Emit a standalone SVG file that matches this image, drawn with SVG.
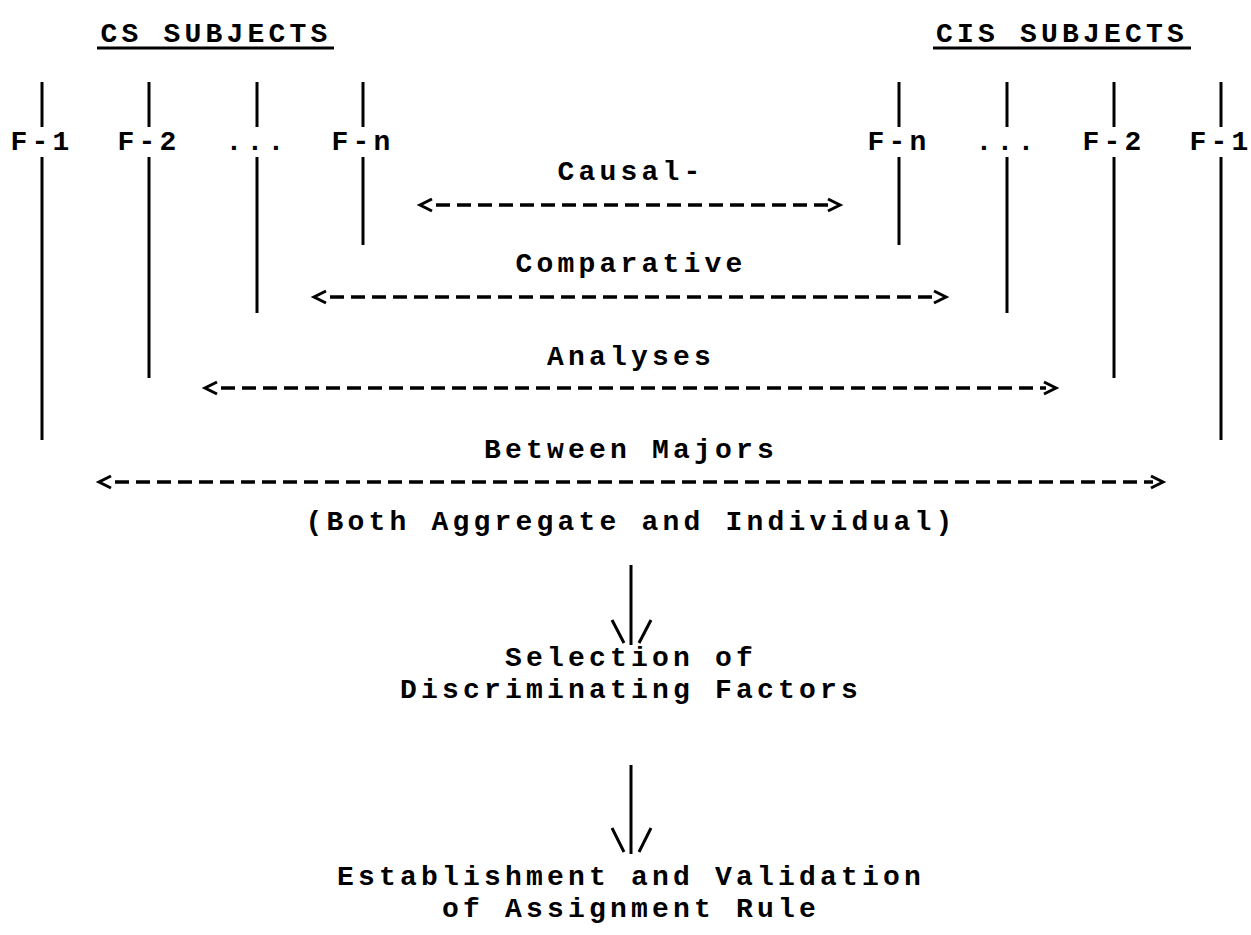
<svg xmlns="http://www.w3.org/2000/svg" width="1251" height="935" viewBox="0 0 1251 935">
<style>
text{font-family:"Liberation Mono","DejaVu Sans Mono",monospace;font-weight:bold;font-size:28px;letter-spacing:4.2px;fill:#000;text-anchor:middle}
.ln{stroke:#000;stroke-width:3;fill:none}
.ds{stroke:#000;stroke-width:3.5;fill:none;stroke-dasharray:14 7}
.hd{stroke:#000;stroke-width:3;fill:none;stroke-linejoin:miter}
</style>
<rect width="1251" height="935" fill="#fff"/>
<g id="cs-subjects">
<text x="216" y="42">CS SUBJECTS</text>
<line class="ln" x1="97" y1="48" x2="334" y2="48"/>
</g>
<g id="cis-subjects">
<text x="1062" y="42">CIS SUBJECTS</text>
<line class="ln" x1="933" y1="48" x2="1191" y2="48"/>
</g>
<g id="cs-f1"><text x="42" y="150">F-1</text></g>
<g id="cs-f2"><text x="149" y="150">F-2</text></g>
<g id="cs-dots"><text x="257" y="150">...</text></g>
<g id="cs-fn"><text x="363" y="150">F-n</text></g>
<g id="cis-fn"><text x="899" y="150">F-n</text></g>
<g id="cis-dots"><text x="1007" y="150">...</text></g>
<g id="cis-f2"><text x="1114" y="150">F-2</text></g>
<g id="cis-f1"><text x="1221" y="150">F-1</text></g>
<g id="label-causal"><text x="631" y="180">Causal-</text></g>
<g id="label-comparative"><text x="631" y="272">Comparative</text></g>
<g id="label-analyses"><text x="631" y="365">Analyses</text></g>
<g id="label-between"><text x="631" y="458">Between Majors</text></g>
<g id="label-both"><text x="631" y="530">(Both Aggregate and Individual)</text></g>
<g id="selection"><text x="631" y="666">Selection of</text><text x="631" y="698">Discriminating Factors</text></g>
<g id="establishment"><text x="631" y="885">Establishment and Validation</text><text x="631" y="917">of Assignment Rule</text></g>
<g id="connectors">
<line class="ln" x1="42" y1="82" x2="42" y2="127"/>
<line class="ln" x1="149" y1="82" x2="149" y2="127"/>
<line class="ln" x1="257" y1="82" x2="257" y2="127"/>
<line class="ln" x1="363" y1="82" x2="363" y2="127"/>
<line class="ln" x1="899" y1="82" x2="899" y2="127"/>
<line class="ln" x1="1007" y1="82" x2="1007" y2="127"/>
<line class="ln" x1="1114" y1="82" x2="1114" y2="127"/>
<line class="ln" x1="1221" y1="82" x2="1221" y2="127"/>
<line class="ln" x1="42" y1="157" x2="42" y2="440"/>
<line class="ln" x1="149" y1="157" x2="149" y2="378"/>
<line class="ln" x1="257" y1="157" x2="257" y2="313"/>
<line class="ln" x1="363" y1="157" x2="363" y2="245"/>
<line class="ln" x1="899" y1="157" x2="899" y2="245"/>
<line class="ln" x1="1007" y1="157" x2="1007" y2="313"/>
<line class="ln" x1="1114" y1="157" x2="1114" y2="378"/>
<line class="ln" x1="1221" y1="157" x2="1221" y2="440"/>
<line class="ds" x1="436" y1="205" x2="828" y2="205"/>
<polyline class="hd" points="432,199 420,205 432,211"/>
<polyline class="hd" points="828,199 840,205 828,211"/>
<line class="ds" x1="330" y1="297" x2="936" y2="297"/>
<polyline class="hd" points="326,291 314,297 326,303"/>
<polyline class="hd" points="934,291 946,297 934,303"/>
<line class="ds" x1="221" y1="388" x2="1046" y2="388"/>
<polyline class="hd" points="217,382 205,388 217,394"/>
<polyline class="hd" points="1044,382 1056,388 1044,394"/>
<line class="ds" x1="115" y1="482" x2="1153" y2="482"/>
<polyline class="hd" points="111,476 99,482 111,488"/>
<polyline class="hd" points="1151,476 1163,482 1151,488"/>
<line class="ln" x1="631" y1="565" x2="631" y2="645"/>
<line class="ln" x1="612" y1="620" x2="624" y2="643"/>
<line class="ln" x1="651" y1="620" x2="639" y2="643"/>
<line class="ln" x1="631" y1="765" x2="631" y2="854"/>
<line class="ln" x1="612" y1="828" x2="624" y2="852"/>
<line class="ln" x1="651" y1="828" x2="639" y2="852"/>
</g>
</svg>
